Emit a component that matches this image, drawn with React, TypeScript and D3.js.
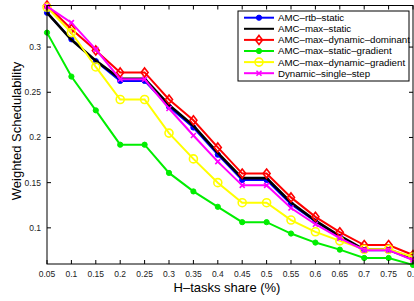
import React from 'react';
import * as d3 from 'd3';

const shares = [0.05, 0.1, 0.15, 0.2, 0.25, 0.3, 0.35, 0.4, 0.45, 0.5, 0.55, 0.6, 0.65, 0.7, 0.75, 0.8];
const xTicks = shares;
const yTicks = [0.1, 0.15, 0.2, 0.25, 0.3];

const rtbStatic = [0.338, 0.3086, 0.2844, 0.2626, 0.2626, 0.234, 0.211, 0.181, 0.153, 0.153, 0.126, 0.107, 0.090, 0.0753, 0.0753, 0.065];
const maxStatic = [0.338, 0.308, 0.285, 0.265, 0.265, 0.236, 0.213, 0.183, 0.155, 0.155, 0.128, 0.108, 0.091, 0.076, 0.076, 0.066];
const maxDynDominant = [0.346, 0.32, 0.2963, 0.272, 0.272, 0.242, 0.219, 0.189, 0.160, 0.160, 0.1337, 0.1122, 0.0952, 0.081, 0.081, 0.07];
const maxStaticGradient = [0.316, 0.2674, 0.230, 0.192, 0.192, 0.1608, 0.1403, 0.1233, 0.1063, 0.1063, 0.0937, 0.0837, 0.0759, 0.0667, 0.0667, 0.059];
const maxDynGradient = [0.344, 0.316, 0.278, 0.242, 0.242, 0.2048, 0.1763, 0.15, 0.1278, 0.1278, 0.1086, 0.0956, 0.0856, 0.0763, 0.0763, 0.0678];
const singleStep = [0.345, 0.327, 0.2974, 0.2644, 0.2644, 0.232, 0.2022, 0.1733, 0.147, 0.147, 0.122, 0.104, 0.0886, 0.0753, 0.0753, 0.0644];

const seriesNames = ['AMC–rtb–static', 'AMC–max–static', 'AMC–max–dynamic–dominant', 'AMC–max–static–gradient', 'AMC–max–dynamic–gradient', 'Dynamic–single–step'];
const seriesColors = ['#0000ff', '#000000', '#ff0000', '#00ee00', '#ffff00', '#ff00ff'];
const seriesMarkers = ['dot', 'none', 'diamond', 'dot', 'circle', 'x'];
const seriesValues = [rtbStatic, maxStatic, maxDynDominant, maxStaticGradient, maxDynGradient, singleStep];

const W = 414;
const H = 301;
const m = { left: 47, right: 413, top: 5.5, bottom: 264 };
const font = 'Liberation Sans, Arial, sans-serif';

const Marker = ({ type, x, y, color }: { type: string; x: number; y: number; color: string }) => {
  if (type === 'dot') return <circle cx={x} cy={y} r={2.6} fill={color} stroke={color} />;
  if (type === 'circle') return <circle cx={x} cy={y} r={4} fill="none" stroke={color} strokeWidth={1.6} />;
  if (type === 'diamond')
    return <path d={`M${x},${y - 4.5}L${x + 3.5},${y}L${x},${y + 4.5}L${x - 3.5},${y}Z`} fill="none" stroke={color} strokeWidth={1.6} />;
  if (type === 'x')
    return <path d={`M${x - 2.5},${y - 2.5}L${x + 2.5},${y + 2.5}M${x - 2.5},${y + 2.5}L${x + 2.5},${y - 2.5}`} stroke={color} strokeWidth={1.6} />;
  return null;
};

export default function App() {
  const x = d3.scaleLinear().domain([0.05, 0.8]).range([m.left, m.right]);
  const y = d3.scaleLinear().domain([0.06, 0.346]).range([m.bottom, m.top]);
  const line = d3.line<number>().x((_, i) => x(shares[i])).y(d => y(d));

  const lg = { x: 238, y: 11, w: 171, h: 70, row: 11.1 };

  return (
    <svg width={W} height={H} style={{ position: 'absolute', left: 0, top: 0, background: '#fff' }} fontFamily={font}>
      {/* series */}
      {seriesValues.map((vals, s) => (
        <g key={s}>
          <path d={line(vals) || ''} fill="none" stroke={seriesColors[s]} strokeWidth={s === 1 ? 2.6 : 2} />
          {vals.map((v, i) => (
            <Marker key={i} type={seriesMarkers[s]} x={x(shares[i])} y={y(v)} color={seriesColors[s]} />
          ))}
        </g>
      ))}

      {/* box + ticks */}
      <rect x={m.left} y={m.top} width={m.right - m.left} height={m.bottom - m.top} fill="none" stroke="#000" strokeWidth={1} />
      {xTicks.map(t => (
        <g key={t}>
          <line x1={x(t)} x2={x(t)} y1={m.bottom} y2={m.bottom - 4} stroke="#000" />
          <line x1={x(t)} x2={x(t)} y1={m.top} y2={m.top + 4} stroke="#000" />
          <text x={x(t)} y={277} fontSize={8.5} textAnchor="middle" fill="#222">{String(t)}</text>
        </g>
      ))}
      {yTicks.map(t => (
        <g key={t}>
          <line x1={m.left} x2={m.left + 4} y1={y(t)} y2={y(t)} stroke="#000" />
          <line x1={m.right} x2={m.right - 4} y1={y(t)} y2={y(t)} stroke="#000" />
          <text x={41} y={y(t) + 3} fontSize={8.5} textAnchor="end" fill="#222">{String(t)}</text>
        </g>
      ))}

      {/* axis labels */}
      <text x={227} y={292} fontSize={13} textAnchor="middle">H–tasks share (%)</text>
      <text transform={`translate(20.5,131) rotate(-90)`} fontSize={13} textAnchor="middle">Weighted Schedulability</text>

      {/* legend */}
      <rect x={lg.x} y={lg.y} width={lg.w} height={lg.h} fill="#fff" stroke="#000" strokeWidth={1} />
      {seriesNames.map((name, s) => {
        const ly = lg.y + 6.7 + s * lg.row;
        return (
          <g key={name}>
            <line x1={244} x2={274} y1={ly} y2={ly} stroke={seriesColors[s]} strokeWidth={2} />
            <Marker type={seriesMarkers[s]} x={259} y={ly} color={seriesColors[s]} />
            <text x={278} y={ly + 3.4} fontSize={9.7}>{name}</text>
          </g>
        );
      })}
    </svg>
  );
}
